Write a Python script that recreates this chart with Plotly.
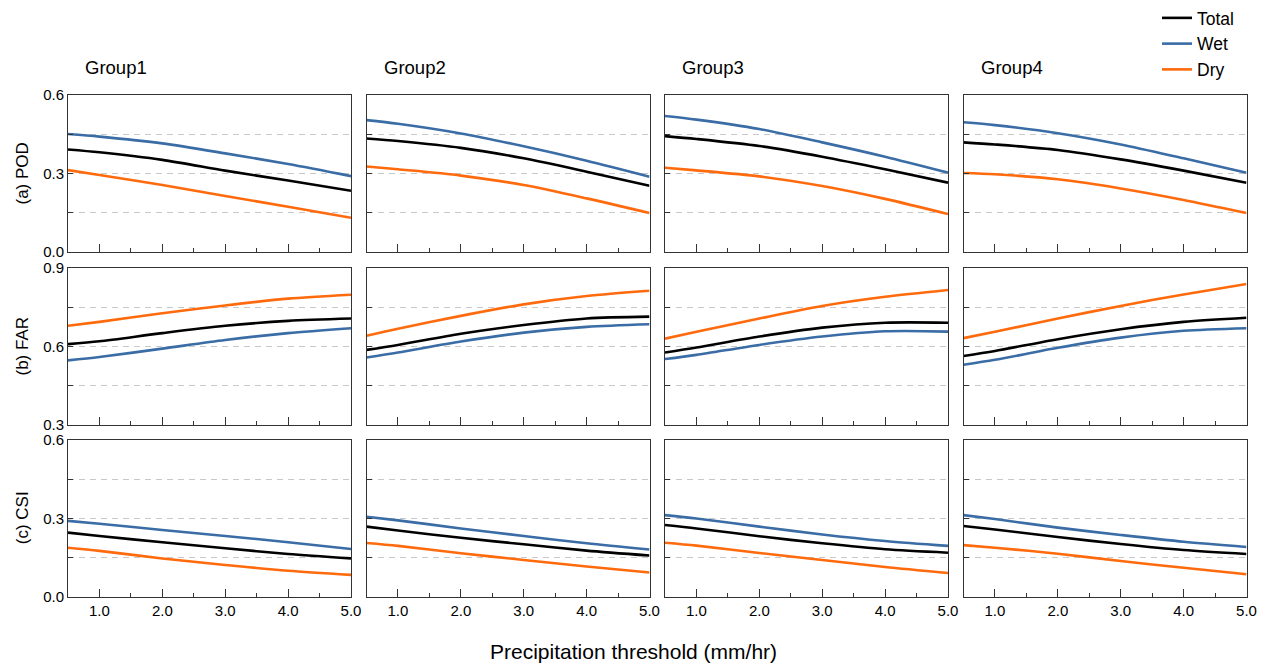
import plotly.graph_objects as go

W, H = 1270, 669

x_thr = [0.5, 1.0, 2.0, 3.0, 4.0, 5.0]
groups = ["Group1", "Group2", "Group3", "Group4"]
metric_titles = ["(a) POD", "(b) FAR", "(c) CSI"]
series_names = ["Total", "Wet", "Dry"]
x_tick_vals = [1, 2, 3, 4, 5]
x_tick_text = ["1.0", "2.0", "3.0", "4.0", "5.0"]

# POD (per group)
pod_total = [[0.392, 0.381, 0.352, 0.311, 0.273, 0.234],
             [0.434, 0.424, 0.398, 0.358, 0.307, 0.253],
             [0.443, 0.432, 0.405, 0.364, 0.316, 0.265],
             [0.419, 0.411, 0.390, 0.354, 0.311, 0.265]]
pod_wet = [[0.451, 0.441, 0.415, 0.377, 0.336, 0.290],
           [0.504, 0.490, 0.453, 0.404, 0.349, 0.288],
           [0.520, 0.506, 0.470, 0.419, 0.364, 0.303],
           [0.496, 0.485, 0.454, 0.411, 0.358, 0.303]]
pod_dry = [[0.313, 0.294, 0.256, 0.214, 0.173, 0.131],
           [0.327, 0.316, 0.292, 0.256, 0.205, 0.149],
           [0.322, 0.312, 0.289, 0.252, 0.203, 0.145],
           [0.302, 0.297, 0.278, 0.243, 0.199, 0.149]]

# FAR (per group)
far_total = [[0.609, 0.620, 0.651, 0.679, 0.698, 0.707],
             [0.587, 0.606, 0.649, 0.682, 0.707, 0.714],
             [0.577, 0.596, 0.638, 0.672, 0.691, 0.691],
             [0.564, 0.583, 0.628, 0.666, 0.694, 0.710]]
far_wet = [[0.547, 0.560, 0.592, 0.625, 0.651, 0.670],
           [0.558, 0.577, 0.619, 0.653, 0.675, 0.685],
           [0.552, 0.568, 0.606, 0.638, 0.658, 0.657],
           [0.530, 0.549, 0.595, 0.634, 0.660, 0.670]]
far_dry = [[0.679, 0.694, 0.727, 0.757, 0.783, 0.798],
           [0.641, 0.668, 0.717, 0.761, 0.793, 0.813],
           [0.630, 0.656, 0.707, 0.755, 0.790, 0.816],
           [0.632, 0.656, 0.707, 0.755, 0.799, 0.839]]

# CSI (per group)
csi_total = [[0.245, 0.232, 0.208, 0.185, 0.163, 0.146],
             [0.268, 0.253, 0.225, 0.200, 0.176, 0.157],
             [0.274, 0.261, 0.231, 0.204, 0.181, 0.168],
             [0.270, 0.257, 0.228, 0.201, 0.178, 0.163]]
csi_wet = [[0.290, 0.279, 0.255, 0.232, 0.208, 0.182],
           [0.306, 0.292, 0.261, 0.232, 0.204, 0.180],
           [0.312, 0.299, 0.268, 0.238, 0.213, 0.194],
           [0.312, 0.297, 0.264, 0.236, 0.210, 0.190]]
csi_dry = [[0.187, 0.175, 0.146, 0.121, 0.099, 0.083],
           [0.205, 0.194, 0.166, 0.140, 0.115, 0.092],
           [0.206, 0.195, 0.167, 0.140, 0.113, 0.090],
           [0.197, 0.187, 0.164, 0.136, 0.110, 0.085]]

metric_data = [[pod_total, pod_wet, pod_dry],
               [far_total, far_wet, far_dry],
               [csi_total, csi_wet, csi_dry]]
y_ranges = [[0.0, 0.6], [0.3, 0.9], [0.0, 0.6]]
y_tick_vals = [[0.0, 0.15, 0.3, 0.45, 0.6], [0.3, 0.45, 0.6, 0.75, 0.9], [0.0, 0.15, 0.3, 0.45, 0.6]]
y_tick_text = [["0.0", "", "0.3", "", "0.6"], ["0.3", "", "0.6", "", "0.9"], ["0.0", "", "0.3", "", "0.6"]]

colors = {"Total": "#000000", "Wet": "#3a6ca6", "Dry": "#ff6a0d"}

# layout geometry (pixels)
col_px = [(68, 351), (366.5, 649.5), (665, 948), (963.5, 1246.5)]
row_px = [(95, 252), (268, 425), (440, 596.5)]
FONT = "Liberation Sans, Arial, sans-serif"

fig = go.Figure()
layout = dict(
    width=W, height=H, margin=dict(l=0, r=0, t=0, b=0, pad=0, autoexpand=False),
    paper_bgcolor="white", plot_bgcolor="white",
    font=dict(family=FONT, color="#000000", size=15),
    showlegend=True,
    legend=dict(x=1157 / W, y=1.0, xanchor="left", yanchor="top",
                font=dict(size=17.5, family=FONT), bgcolor="rgba(0,0,0,0)",
                tracegroupgap=0, itemwidth=30),
)
annotations = []

for r in range(3):
    for c in range(4):
        i = r * 4 + c + 1
        xa = "xaxis" if i == 1 else f"xaxis{i}"
        ya = "yaxis" if i == 1 else f"yaxis{i}"
        xref = "x" if i == 1 else f"x{i}"
        yref = "y" if i == 1 else f"y{i}"
        layout[xa] = dict(
            domain=[col_px[c][0] / W, col_px[c][1] / W], anchor=yref,
            range=[0.5, 5.0], showline=True, linecolor="#333333", linewidth=1, mirror=True,
            ticks="inside", ticklen=8, tickcolor="#333333", tickwidth=1,
            tickvals=x_tick_vals, ticktext=x_tick_text, showticklabels=(r == 2),
            tickfont=dict(size=15, family=FONT), showgrid=False, zeroline=False,
            automargin=False,
            minor=dict(tickvals=[1.5, 2.5, 3.5, 4.5], ticks="inside", ticklen=4,
                       tickcolor="#333333", showgrid=False),
        )
        layout[ya] = dict(
            domain=[1 - row_px[r][1] / H, 1 - row_px[r][0] / H], anchor=xref,
            range=y_ranges[r], showline=True, linecolor="#333333", linewidth=1, mirror=True,
            ticks="inside", ticklen=5, tickcolor="#333333", tickwidth=1,
            tickvals=y_tick_vals[r], ticktext=y_tick_text[r], showticklabels=(c == 0),
            tickfont=dict(size=15, family=FONT), automargin=False,
            showgrid=True, gridcolor="#c8c8c8", gridwidth=1, griddash="6px,5px",
            zeroline=False,
        )
        for s, name in enumerate(series_names):
            fig.add_trace(go.Scatter(
                x=x_thr, y=metric_data[r][s][c], mode="lines", name=name,
                line=dict(color=colors[name], width=2.6, shape="spline", smoothing=0.8),
                xaxis=xref, yaxis=yref, showlegend=(i == 1), legendgroup=name,
            ))

for c in range(4):
    annotations.append(dict(
        text=groups[c], x=(col_px[c][0] + 15) / W, y=1 - 67 / H, xref="paper", yref="paper",
        xanchor="left", yanchor="middle", showarrow=False, font=dict(size=18.5, family=FONT)))

for r in range(3):
    annotations.append(dict(
        text=metric_titles[r], x=22 / W, y=1 - (row_px[r][0] + row_px[r][1]) / 2 / H,
        xref="paper", yref="paper", xanchor="center", yanchor="middle", textangle=-90,
        showarrow=False, font=dict(size=17, family=FONT)))

annotations.append(dict(
    text="Precipitation threshold (mm/hr)", x=633 / W, y=1 - 651 / H, xref="paper", yref="paper",
    xanchor="center", yanchor="middle", showarrow=False, font=dict(size=21, family=FONT)))

layout["annotations"] = annotations
fig.update_layout(**layout)
fig.write_html("out.html", config={"displayModeBar": False},
               post_script="document.body.style.margin='0';document.body.style.overflow='hidden';")
